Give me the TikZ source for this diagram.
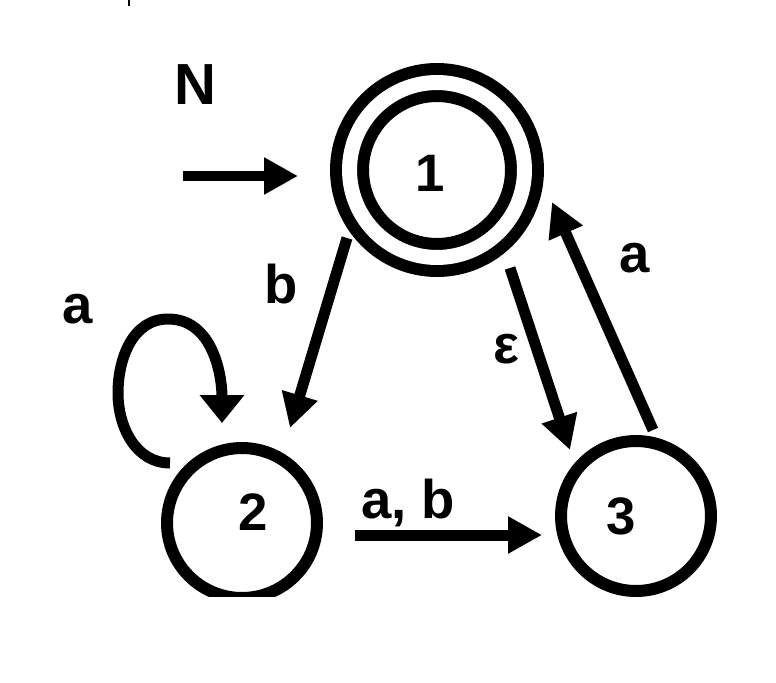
\documentclass[tikz,border=0pt]{standalone}
\usepackage{fontspec}
\setmainfont{Liberation Sans}
\usetikzlibrary{arrows.meta,calc}
\definecolor{fsmink}{HTML}{000000}
\tikzset{
  stateNode/.style={draw=fsmink, circle, line width=2.4mm, inner sep=0pt, outer sep=0pt, minimum size=3cm},
  acceptNode/.style={stateNode, double=white, double distance=3mm, minimum size=3.5cm},
  stateLabel/.style={font=\fontsize{30}{36}\selectfont\bfseries, text=fsmink, inner sep=0pt},
  edgeArrow/.style={-{Triangle[length=6.8mm, width=7mm]}, line width=2.2mm, draw=fsmink},
  loopArrow/.style={-{Triangle[length=5.6mm, width=8.6mm]}, line width=2.2mm, draw=fsmink},
  edgeLabel/.style={font=\fontsize{31}{36}\selectfont\bfseries, text=fsmink, inner sep=0pt, anchor=base}
}

\begin{document}
\begin{tikzpicture}[x=0.02cm, y=-0.02cm]
  \useasboundingbox (0,0) rectangle (776,682);
  \clip (0,0) rectangle (776,596);

  \node[acceptNode, label={[stateLabel, shift={(-7,3)}]center:1}] (s1) at (437,170) {};
  \node[stateNode, label={[stateLabel, shift={(11,-11)}]center:2}] (s2) at (242,523) {};
  \node[stateNode, label={[stateLabel, shift={(-15,0)}]center:3}] (s3) at (636,516) {};

  \node[edgeLabel, font=\fontsize{33}{38}\selectfont\bfseries] (title) at (195,105) {N};
  \coordinate (init) at (183,176);
  \draw[fsmink, line width=0.4mm] (128.5,0) -- (128.5,6);

  \draw[edgeArrow] (init) -- ([shift={(-139,6)}]s1.center);
  \draw[edgeArrow] ([shift={(-90,68)}]s1.center) -- node[edgeLabel, pos=.258, shift={(-51,16)}] {b} ([shift={(48,-95)}]s2.center);
  \draw[edgeArrow] ([shift={(73,98)}]s1.center) -- node[edgeLabel, pos=.47, shift={(-32,9.5)}] {ε} ([shift={(-66,-66)}]s3.center);
  \draw[edgeArrow] ([shift={(17,-86)}]s3.center) -- node[edgeLabel, pos=.75, shift={(57,13)}] {a} ([shift={(115,32)}]s1.center);
  \draw[edgeArrow] ([shift={(113,12)}]s2.center) -- node[edgeLabel, pos=.283, shift={(0,-17)}] {a, b} ([shift={(-94,19)}]s3.center);

  % self loop on 2
  \draw[loopArrow] ([shift={(-72,-60)}]s2.center) to[out=180,in=270] ++(-52,-70)
    to[out=90,in=180] ++(50,-74) to[out=0,in=90] ([shift={(-20,-100)}]s2.center);
  \node[edgeLabel] (loopa) at (78,323) {a};
\end{tikzpicture}
\end{document}
